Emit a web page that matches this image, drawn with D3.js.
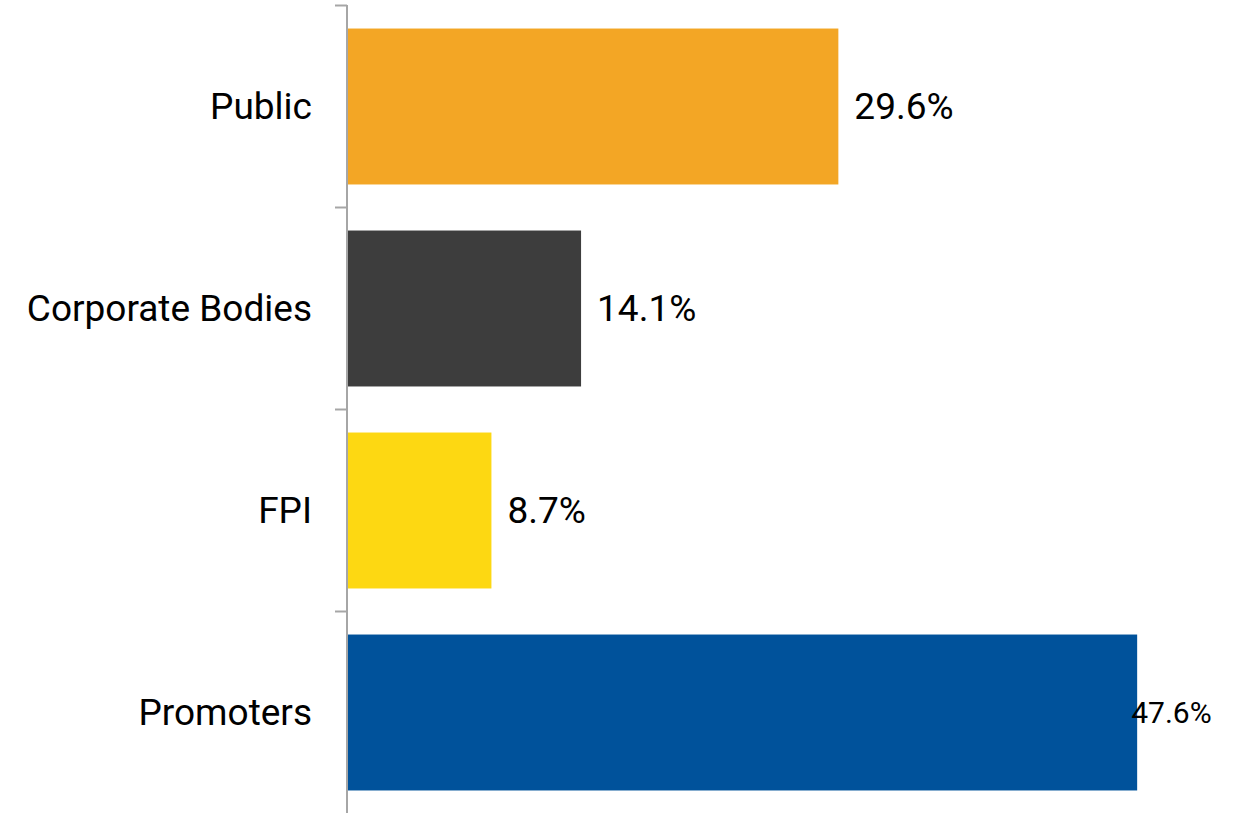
<!DOCTYPE html>
<html>
<head>
<meta charset="utf-8">
<script src="https://cdn.jsdelivr.net/npm/d3@7"></script>
<style>
  html, body { margin: 0; padding: 0; background: #fff; }
  svg { display: block; font-family: Roboto, "Noto Sans", sans-serif; }
</style>
</head>
<body>
<svg id="chart" width="1243" height="813"></svg>
<script>
// Shareholding pattern (%)
const categories = ["Public", "Corporate Bodies", "FPI", "Promoters"];
const shares = [29.6, 14.1, 8.7, 47.6];
const valueLabels = ["29.6%", "14.1%", "8.7%", "47.6%"];
const barColors = ["#F3A625", "#3D3D3D", "#FDD812", "#00529B"];

const svg = d3.select("#chart");
const W = 1243, H = 813;
const x0 = 347;

const x = d3.scaleLinear().domain([0, 50]).range([x0, 1177]);
const pad = 0.228;
const y = d3.scaleBand()
  .domain(categories)
  .range([5.5, 813.5])
  .paddingInner(pad)
  .paddingOuter(pad / 2);

const data = categories.map((c, i) => ({ cat: c, v: shares[i], label: valueLabels[i], color: barColors[i] }));

// bars
svg.append("g").selectAll("rect")
  .data(data)
  .join("rect")
  .attr("x", x(0))
  .attr("y", d => y(d.cat))
  .attr("width", d => x(d.v) - x(0))
  .attr("height", y.bandwidth())
  .attr("fill", d => d.color);

// category axis: vertical line with ticks at band boundaries
const axis = svg.append("g");
axis.append("line")
  .attr("x1", x0).attr("x2", x0)
  .attr("y1", 5).attr("y2", H)
  .attr("stroke", "#A6A6A6").attr("stroke-width", 2);
axis.selectAll("line.tick")
  .data(categories)
  .join("line")
  .attr("class", "tick")
  .attr("x1", x0 - 12).attr("x2", x0)
  .attr("y1", d => y(d) - y.step() * pad / 2)
  .attr("y2", d => y(d) - y.step() * pad / 2)
  .attr("stroke", "#A6A6A6").attr("stroke-width", 2);
axis.selectAll("text")
  .data(categories)
  .join("text")
  .attr("x", 312)
  .attr("y", d => y(d) + y.bandwidth() / 2)
  .attr("dy", "0.35em")
  .attr("text-anchor", "end")
  .attr("font-size", 37)
  .attr("fill", "#000")
  .text(d => d);

// value labels
svg.append("g").selectAll("text")
  .data(data)
  .join("text")
  .attr("x", d => d.v > 40 ? x(d.v) - 6 : x(d.v) + 16)
  .attr("y", d => y(d.cat) + y.bandwidth() / 2)
  .attr("dy", "0.35em")
  .attr("font-size", d => d.v > 40 ? 30 : 37)
  .attr("fill", "#000")
  .text(d => d.label);
</script>
</body>
</html>
